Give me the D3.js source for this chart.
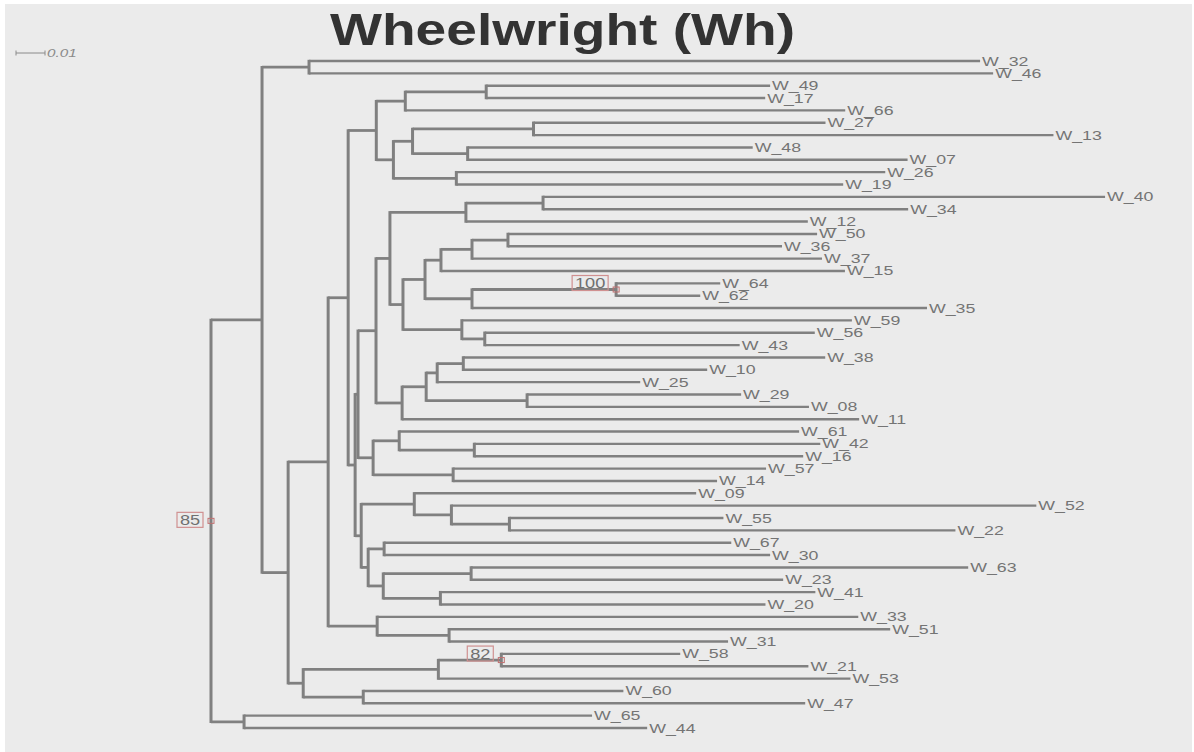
<!DOCTYPE html>
<html>
<head>
<meta charset="utf-8">
<script src="https://cdn.jsdelivr.net/npm/d3@7"></script>
<style>
  body { margin: 0; background: #fff; }
  svg { display: block; }
</style>
</head>
<body>
<div id="chart"></div>
<script>
// tip order, top to bottom
const leafOrder = [
  "W_32", "W_46", "W_49", "W_17", "W_66", "W_27", "W_13", "W_48", "W_07", "W_26",
  "W_19", "W_40", "W_34", "W_12", "W_50", "W_36", "W_37", "W_15", "W_64", "W_62",
  "W_35", "W_59", "W_56", "W_43", "W_38", "W_10", "W_25", "W_29", "W_08", "W_11",
  "W_61", "W_42", "W_16", "W_57", "W_14", "W_09", "W_52", "W_55", "W_22", "W_67",
  "W_30", "W_63", "W_23", "W_41", "W_20", "W_33", "W_51", "W_31", "W_58", "W_21",
  "W_53", "W_60", "W_47", "W_65", "W_44"
];

// [child, parent, branch length]
const treeLinks = [
  ["B", "A", 0.0176], ["C", "A", 0.0114],
  ["n2", "B", 0.0162], ["D", "B", 0.0090],
  ["E", "D", 0.0138], ["F", "D", 0.0052],
  ["G", "F", 0.0466], ["H", "F", 0.0207],
  ["n501", "G", 0.0217],
  ["n348", "E", 0.0069], ["n377", "E", 0.0169],
  ["n449", "n377", 0.0248],
  ["n376t", "n348", 0.0097], ["P", "n348", 0.0024],
  ["Q", "P", 0.0010], ["n361", "P", 0.0021],
  ["n376m", "Q", 0.0062], ["n373", "Q", 0.0052],
  ["n405", "n376t", 0.0100], ["n393", "n376t", 0.0059],
  ["n486", "n405", 0.0279],
  ["n412", "n393", 0.0066], ["n456", "n393", 0.0217],
  ["n533", "n412", 0.0417], ["n467", "n412", 0.0190],
  ["n390", "n376m", 0.0048], ["n402", "n376m", 0.0090],
  ["n466", "n390", 0.0262], ["n403", "n390", 0.0045],
  ["n543", "n466", 0.0266],
  ["n425", "n403", 0.0076], ["n462", "n403", 0.0203],
  ["n485", "n462", 0.0079],
  ["n441", "n425", 0.0055], ["n472b", "n425", 0.0162],
  ["n472a", "n441", 0.0107], ["n508", "n472a", 0.0124],
  ["n616", "n472b", 0.0497],
  ["n426", "n402", 0.0083],
  ["n437", "n426", 0.0038], ["n527", "n426", 0.0348],
  ["n463", "n437", 0.0090],
  ["n399", "n373", 0.0090], ["n453", "n373", 0.0276],
  ["n474", "n399", 0.0259],
  ["n414", "n361", 0.0183], ["n368", "n361", 0.0024],
  ["n451", "n414", 0.0128], ["n509", "n451", 0.0200],
  ["n384", "n368", 0.0055], ["n383", "n368", 0.0052],
  ["n471", "n383", 0.0303], ["n440", "n383", 0.0197],
  // tips
  ["W_32", "n2", 0.2314], ["W_46", "n2", 0.2359],
  ["W_49", "n486", 0.0979], ["W_17", "n486", 0.0962],
  ["W_66", "n405", 0.1517],
  ["W_27", "n533", 0.1007], ["W_13", "n533", 0.1793],
  ["W_48", "n467", 0.0983], ["W_07", "n467", 0.1517],
  ["W_26", "n456", 0.1479], ["W_19", "n456", 0.1334],
  ["W_40", "n543", 0.1938], ["W_34", "n543", 0.1259],
  ["W_12", "n466", 0.1179],
  ["W_50", "n508", 0.1066], ["W_36", "n508", 0.0945],
  ["W_37", "n472a", 0.1207],
  ["W_15", "n441", 0.1393],
  ["W_64", "n616", 0.0359], ["W_62", "n616", 0.0290],
  ["W_35", "n472b", 0.1569],
  ["W_59", "n462", 0.1345],
  ["W_56", "n485", 0.1138], ["W_43", "n485", 0.0879],
  ["W_38", "n463", 0.1248], ["W_10", "n463", 0.0841],
  ["W_25", "n437", 0.0700],
  ["W_29", "n527", 0.0738], ["W_08", "n527", 0.0972],
  ["W_11", "n402", 0.1576],
  ["W_61", "n399", 0.1379],
  ["W_42", "n474", 0.1193], ["W_16", "n474", 0.1134],
  ["W_57", "n453", 0.1079], ["W_14", "n453", 0.0910],
  ["W_09", "n414", 0.0972],
  ["W_52", "n451", 0.2017],
  ["W_55", "n509", 0.0738], ["W_22", "n509", 0.1538],
  ["W_67", "n384", 0.1197], ["W_30", "n384", 0.1331],
  ["W_63", "n471", 0.1714], ["W_23", "n471", 0.1076],
  ["W_41", "n440", 0.1293], ["W_20", "n440", 0.1121],
  ["W_33", "n377", 0.1659],
  ["W_51", "n449", 0.1521], ["W_31", "n449", 0.0962],
  ["W_58", "n501", 0.0617], ["W_21", "n501", 0.1059],
  ["W_53", "G", 0.1421],
  ["W_60", "H", 0.0897], ["W_47", "H", 0.1524],
  ["W_65", "C", 0.1200], ["W_44", "C", 0.1390]
];

// bootstrap support shown on the tree
const supportValues = [["A", 85], ["n616", 100], ["n501", 82]];

const scaleBarValue = 0.01;
const title = "Wheelwright (Wh)";

const width = 1194;
const height = 752;
const lineColor = "#808080";

const svg = d3.select("#chart").append("svg")
  .attr("width", width)
  .attr("height", height);

svg.append("rect")
  .attr("x", 5).attr("y", 4)
  .attr("width", 1187).attr("height", height - 4)
  .attr("fill", "#ebebeb");

const rows = [{ id: "A", parentId: null, length: 0 }]
  .concat(treeLinks.map(d => ({ id: d[0], parentId: d[1], length: d[2] })));

const root = d3.stratify()
  .id(d => d.id)
  .parentId(d => d.parentId)(rows);

root.eachBefore(n => { n.dist = n.parent ? n.parent.dist + n.data.length : 0; });

const xScale = d3.scaleLinear()
  .domain([0, 0.32])
  .range([211, 211 + 0.32 * 2900]);

const yScale = d3.scalePoint()
  .domain(leafOrder)
  .range([61, 728]);

root.eachAfter(n => {
  if (!n.children) {
    n.yy = yScale(n.id);
  } else {
    const ys = n.children.map(c => c.yy);
    n.yy = (d3.min(ys) + d3.max(ys)) / 2;
  }
  n.xx = xScale(n.dist);
});

const g = svg.append("g");

// horizontal branches
g.selectAll("line.h")
  .data(root.descendants().filter(n => n.parent))
  .enter().append("line")
  .attr("class", "h")
  .attr("x1", d => d.parent.xx)
  .attr("x2", d => d.xx)
  .attr("y1", d => d.yy)
  .attr("y2", d => d.yy)
  .attr("stroke", lineColor)
  .attr("stroke-width", d => d.children ? 2.8 : 2.4);

// vertical connectors
g.selectAll("line.v")
  .data(root.descendants().filter(n => n.children))
  .enter().append("line")
  .attr("class", "v")
  .attr("x1", d => d.xx)
  .attr("x2", d => d.xx)
  .attr("y1", d => d3.min(d.children, c => c.yy) - 1.2)
  .attr("y2", d => d3.max(d.children, c => c.yy) + 1.2)
  .attr("stroke", lineColor)
  .attr("stroke-width", 3);

// tip labels
g.selectAll("text.tip")
  .data(root.leaves())
  .enter().append("text")
  .attr("class", "tip")
  .attr("transform", d => `translate(${d.xx + 2},${d.yy + 4.5}) scale(1.42,1)`)
  .attr("font-family", "Liberation Sans, Arial, sans-serif")
  .attr("font-size", 12.5)
  .attr("fill", "#747474")
  .text(d => d.id);

// support values
const supportMap = new Map(supportValues);
const supported = root.descendants().filter(n => supportMap.has(n.id));

const sg = g.selectAll("g.support")
  .data(supported)
  .enter().append("g")
  .attr("class", "support");

sg.append("rect")
  .attr("x", d => d.xx - 3)
  .attr("y", d => d.yy - 2.5)
  .attr("width", 6)
  .attr("height", 5)
  .attr("fill", "none")
  .attr("stroke", "#c07070")
  .attr("stroke-width", 1);

sg.each(function (d) {
  const sel = d3.select(this);
  const value = String(supportMap.get(d.id));
  const boxW = value.length * 10 + 6;
  const right = d.xx - 8;
  const cy = d.parent ? d.yy - 6.5 : d.yy - 1;
  sel.append("rect")
    .attr("x", right - boxW)
    .attr("y", cy - 7.5)
    .attr("width", boxW)
    .attr("height", 15)
    .attr("fill", "none")
    .attr("stroke", "#d09090")
    .attr("stroke-width", 1.2);
  sel.append("text")
    .attr("transform", `translate(${right - boxW / 2},${cy + 5}) scale(1.3,1)`)
    .attr("text-anchor", "middle")
    .attr("font-family", "Liberation Sans, Arial, sans-serif")
    .attr("font-size", 14)
    .attr("fill", "#707070")
    .text(value);
});

// scale bar
const barX = 16;
const barY = 53;
const barW = xScale(scaleBarValue) - xScale(0);
const bar = svg.append("g");
bar.append("line")
  .attr("x1", barX).attr("x2", barX + barW)
  .attr("y1", barY).attr("y2", barY)
  .attr("stroke", "#8a8a8a").attr("stroke-width", 1);
[barX, barX + barW].forEach(x => {
  bar.append("line")
    .attr("x1", x).attr("x2", x)
    .attr("y1", barY - 2.5).attr("y2", barY + 2.5)
    .attr("stroke", "#8a8a8a").attr("stroke-width", 1);
});
bar.append("text")
  .attr("transform", `translate(${barX + barW + 2},${barY + 4}) scale(1.45,1)`)
  .attr("font-family", "Liberation Sans, Arial, sans-serif")
  .attr("font-size", 10.5)
  .attr("font-style", "italic")
  .attr("fill", "#8a8a8a")
  .text(scaleBarValue);

// title
svg.append("text")
  .attr("x", 330)
  .attr("y", 45)
  .attr("font-family", "Liberation Sans, Arial, sans-serif")
  .attr("font-weight", "bold")
  .attr("font-size", 44)
  .attr("fill", "#333333")
  .attr("textLength", 465)
  .attr("lengthAdjust", "spacingAndGlyphs")
  .text(title);
</script>
</body>
</html>
